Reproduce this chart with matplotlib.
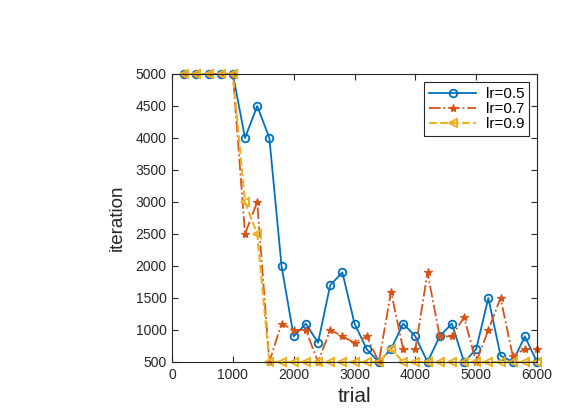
import matplotlib
matplotlib.use('Agg')
from matplotlib import pyplot as plt

plt.rcParams['font.family'] = ['Liberation Sans', 'DejaVu Sans']

# data
trial = [200, 400, 600, 800, 1000, 1200, 1400, 1600, 1800, 2000,
         2200, 2400, 2600, 2800, 3000, 3200, 3400, 3600, 3800, 4000,
         4200, 4400, 4600, 4800, 5000, 5200, 5400, 5600, 5800, 6000]
iter_lr05 = [5000, 5000, 5000, 5000, 5000, 4000, 4500, 4000, 2000, 900,
             1100, 800, 1700, 1900, 1100, 700, 500, 700, 1100, 900,
             500, 900, 1100, 500, 700, 1500, 600, 500, 900, 500]
iter_lr07 = [5000, 5000, 5000, 5000, 5000, 2500, 3000, 500, 1100, 1000,
             1000, 500, 1000, 900, 800, 900, 500, 1600, 700, 700,
             1900, 900, 900, 1200, 500, 1000, 1500, 600, 700, 700]
iter_lr09 = [5000, 5000, 5000, 5000, 5000, 3000, 2500, 500, 500, 500,
             500, 500, 500, 500, 500, 500, 500, 700, 500, 500,
             500, 500, 500, 500, 500, 500, 500, 500, 500, 500]
labels = ['lr=0.5', 'lr=0.7', 'lr=0.9']
xticks = [0, 1000, 2000, 3000, 4000, 5000, 6000]
yticks = [500, 1000, 1500, 2000, 2500, 3000, 3500, 4000, 4500, 5000]

c_blue = '#0072BD'
c_red = '#D95319'
c_yel = '#EDB120'

fig = plt.figure(figsize=(5.8, 4.12), dpi=100)
ax = fig.add_axes([0.2966, 0.1214, 0.6293, 0.699])

ax.plot(trial, iter_lr05, '-', color=c_blue, lw=1.3, marker='o', markersize=5.5,
        markerfacecolor='none', markeredgewidth=1.3, label=labels[0], clip_on=False)
ax.plot(trial, iter_lr07, '-.', color=c_red, lw=1.3, marker='*', markersize=6,
        markerfacecolor=c_red, markeredgewidth=0.8, label=labels[1], clip_on=False)
ax.plot(trial, iter_lr09, '--', color=c_yel, lw=1.5, marker='<', markersize=6,
        markerfacecolor='none', markeredgewidth=1.4, label=labels[2], clip_on=False)

ax.set_xlim(0, 6000)
ax.set_ylim(500, 5000)
ax.set_xticks(xticks)
ax.set_yticks(yticks)
ax.tick_params(direction='in', top=True, right=True, length=4, width=0.8,
               labelsize=10, colors='#262626', pad=4)
for s in ax.spines.values():
    s.set_color('#262626')
    s.set_linewidth(0.8)

ax.set_xlabel('trial', fontsize=15, color='#262626', labelpad=4)
ax.set_ylabel('iteration', fontsize=13.5, color='#262626', labelpad=7)

leg = ax.legend(loc='upper right', fontsize=11, fancybox=False, framealpha=1,
                edgecolor='#262626', borderaxespad=0.55, handlelength=3.1,
                borderpad=0.3, labelspacing=0.08, handletextpad=0.6)
leg.get_frame().set_linewidth(0.8)

plt.savefig('out.png', dpi=100)
plt.close()
